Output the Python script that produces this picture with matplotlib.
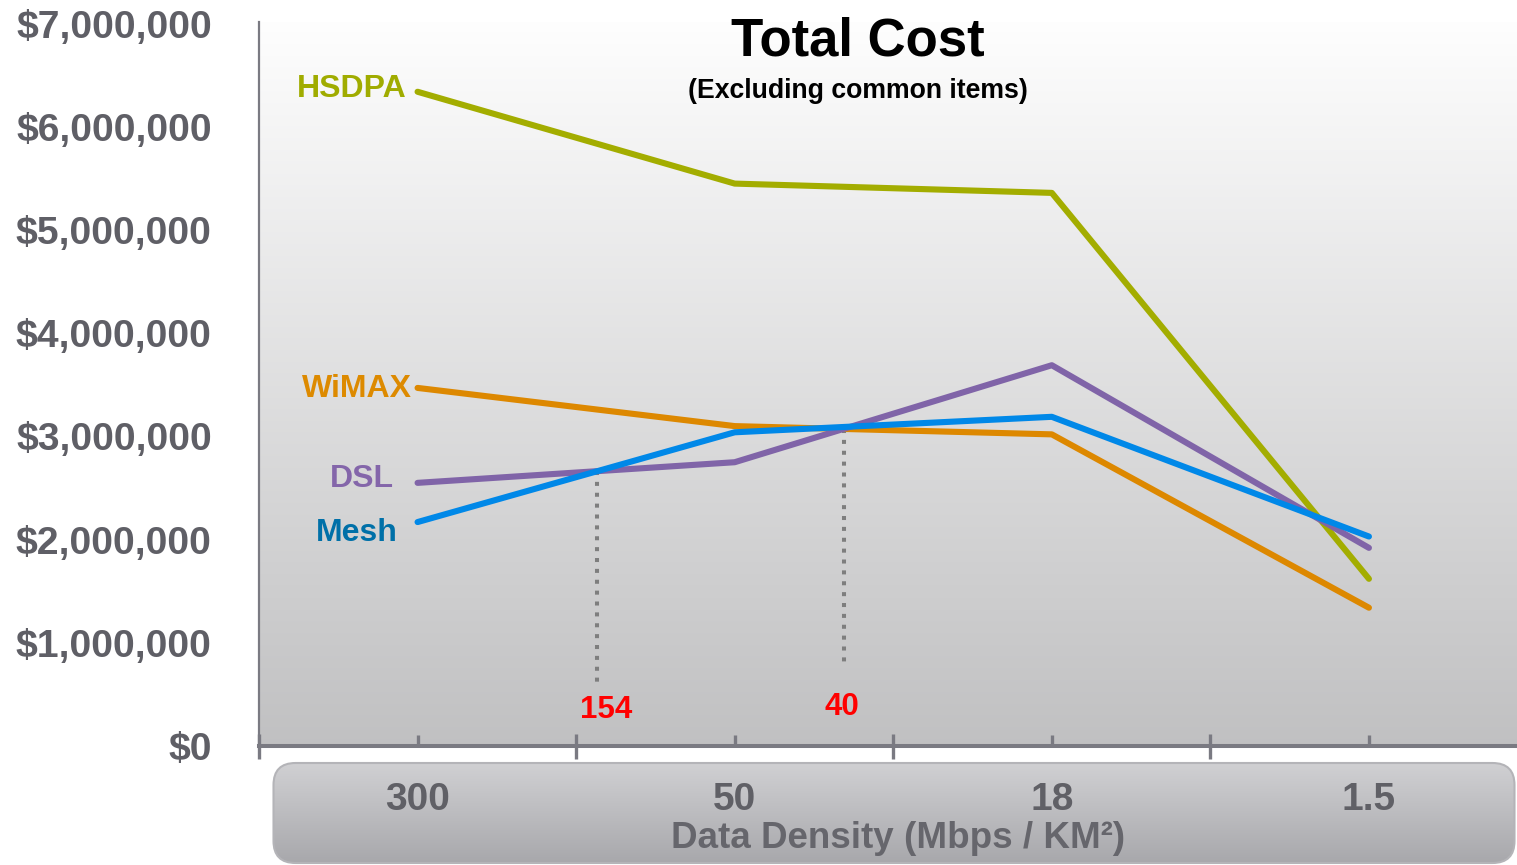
import numpy as np
import matplotlib
matplotlib.use('Agg')
import matplotlib.pyplot as plt
from matplotlib.patches import FancyBboxPatch
from matplotlib.ticker import FuncFormatter

plt.rcParams['font.family'] = ['Liberation Sans', 'DejaVu Sans']

densities = ['300', '50', '18', '1.5']
hsdpa = [6.34e6, 5.45e6, 5.36e6, 1.62e6]
wimax = [3.47e6, 3.10e6, 3.02e6, 1.34e6]
dsl = [2.55e6, 2.75e6, 3.69e6, 1.92e6]
mesh = [2.17e6, 3.04e6, 3.19e6, 2.03e6]

# name, values, line colour, label colour, label offset (points)
series = [
    ('HSDPA', hsdpa, '#a3ad00', '#a0ac00', (-8, 2)),
    ('WiMAX', wimax, '#dd8800', '#dd8a00', (-4, -0.5)),
    ('DSL', dsl, '#8064a8', '#8466aa', (-17, 3)),
    ('Mesh', mesh, '#0088e8', '#0070a8', (-14, -8)),
]

# break-even markers: (series a, series b, segment, label, guide bottom, label y, label dx)
crossings = [(dsl, mesh, 0, '154', 0.58e6, 0.35e6, 0.028),
             (dsl, wimax, 1, '40', 0.76e6, 0.38e6, -0.006)]

W, H = 1517, 865
fig = plt.figure(figsize=(W / 100, H / 100), dpi=100)
fig.patch.set_facecolor('white')

ax = fig.add_axes([259 / W, 1 - 746 / H, 1 - 259 / W, (746 - 22) / H])
ax.set_zorder(2)

x = np.arange(len(densities))

# soft vertical gradient behind the lines
grad = np.linspace(0, 1, 256).reshape(-1, 1)
top = np.array([0.995, 0.995, 0.995])
bot = np.array([0.755, 0.755, 0.76])
img = top + (bot - top) * grad[..., None]
ax.imshow(img, extent=[0, 1, 0, 1], transform=ax.transAxes, aspect='auto',
          zorder=0, origin='upper')

for name, vals, lc, tc, off in series:
    ax.plot(x, vals, color=lc, lw=4.4, solid_capstyle='round',
            solid_joinstyle='round', zorder=3)
    ax.annotate(name, xy=(x[0], vals[0]), xytext=off,
                textcoords='offset points', ha='right', va='center',
                fontsize=23, fontweight='bold', color=tc, zorder=4)

for a, b, i, lab, ybot, ylab, dx in crossings:
    da = a[i + 1] - a[i]
    db = b[i + 1] - b[i]
    t = (b[i] - a[i]) / (da - db)
    xc = x[i] + t
    yc = a[i] + da * t
    ax.plot([xc, xc], [yc, ybot], color='#7e7e7e', lw=2.9,
            ls=(0, (1.0, 1.7)), zorder=2)
    ax.text(xc + dx, ylab, lab, ha='center', va='center', fontsize=22.5,
            fontweight='bold', color='#ff0000', zorder=4)

ax.set_xlim(-0.5, (W - 418) / 317)
ax.set_ylim(0, 7.016e6)
ax.set_yticks(np.arange(0, 7.5e6, 1e6))
ax.yaxis.set_major_formatter(FuncFormatter(lambda v, p: f'${v:,.0f}'))
ax.set_xticks(x)
ax.set_xticklabels(densities)
ax.set_xticks(np.arange(-0.5, 3.5, 1.0), minor=True)

axis_grey = '#7a7a82'
for s in ['top', 'right']:
    ax.spines[s].set_visible(False)
ax.spines['left'].set_color(axis_grey)
ax.spines['left'].set_linewidth(1.6)
ax.spines['bottom'].set_color(axis_grey)
ax.spines['bottom'].set_linewidth(2.9)

ax.tick_params(axis='y', length=0, pad=34, labelsize=28.2, labelcolor='#5f5f66')
ax.tick_params(axis='x', which='major', direction='in', length=8, width=2.4,
               color=axis_grey, pad=26, labelsize=28, labelcolor='#606066')
ax.tick_params(axis='x', which='minor', direction='inout', length=18,
               width=2.4, color=axis_grey)
for lab in ax.get_xticklabels() + ax.get_yticklabels():
    lab.set_fontweight('bold')

ax.set_xlabel('Data Density (Mbps / KM²)', fontsize=26.5, color='#66666c',
              fontweight='bold')
ax.xaxis.set_label_coords((898 - 259) / (W - 259), -(839 - 746) / (746 - 22))
ax.xaxis.label.set_va('center')

# rounded shaded panel holding the x labels
bx = fig.add_axes([272 / W, 0, (W - 272) / W, (865 - 761) / H])
bx.set_zorder(0)
bx.set_xlim(0, W - 272)
bx.set_ylim(0, 865 - 761)
bx.axis('off')
panel = FancyBboxPatch((1.5, 2), W - 272 - 4, 865 - 761 - 4,
                       boxstyle='round,pad=0,rounding_size=22',
                       facecolor='none', edgecolor='#b4b4b8', lw=1.5, zorder=2)
bx.add_patch(panel)
ptop = np.array([0.82, 0.82, 0.83])
pbot = np.array([0.655, 0.655, 0.67])
pimg = ptop + (pbot - ptop) * grad[..., None]
pim = bx.imshow(pimg, extent=[0, W - 272, 0, 865 - 761], aspect='auto',
                zorder=1, origin='upper')
pim.set_clip_path(panel)

fig.text(858 / W, 1 - 41 / H, 'Total Cost', ha='center', va='center',
         fontsize=38, fontweight='bold', color='black')
fig.text(858 / W, 1 - 91 / H, '(Excluding common items)', ha='center',
         va='center', fontsize=19.2, fontweight='bold', color='black')

fig.savefig('out.png', dpi=100)
